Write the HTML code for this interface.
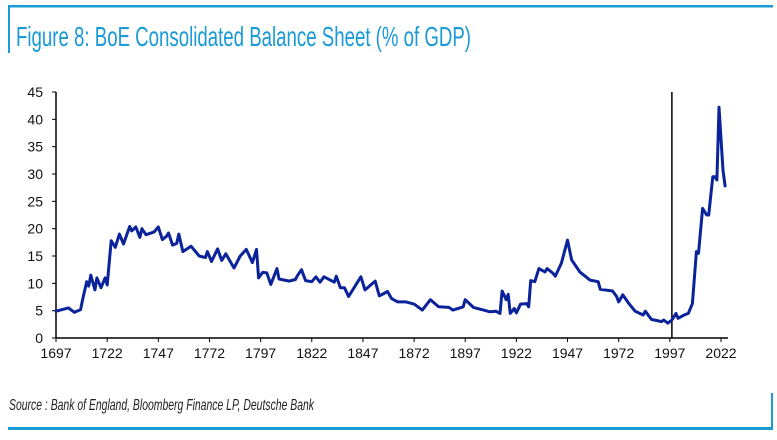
<!DOCTYPE html>
<html><head><meta charset="utf-8"><style>
html,body{margin:0;padding:0;background:#fff;}
svg{display:block;}
</style></head><body>
<svg id="chart" width="777" height="440" viewBox="0 0 777 440" xmlns="http://www.w3.org/2000/svg">
  <rect x="8" y="5" width="765" height="2.5" fill="#1a9ad6"/>
  <rect x="8" y="5" width="2" height="48" fill="#1a9ad6"/>
  <text x="16" y="46" font-family="Liberation Sans, sans-serif" font-size="28" fill="#1a9ad6" textLength="455" lengthAdjust="spacingAndGlyphs">Figure 8: BoE Consolidated Balance Sheet (% of GDP)</text>
  <g id="axes"></g>
  <g id="series"></g>
  <text x="9" y="410" font-family="Liberation Sans, sans-serif" font-size="16" font-style="italic" fill="#222" textLength="305" lengthAdjust="spacingAndGlyphs">Source : Bank of England, Bloomberg Finance LP, Deutsche Bank</text>
  <rect x="771" y="393" width="2" height="37" fill="#1a9ad6"/>
  <rect x="8" y="427" width="765" height="3" fill="#1a9ad6"/>
</svg>
<script>
const years = [1697,1703,1706,1709,1710,1712,1713,1714,1716,1717,1719,1721,1722,1724,1726,1728,1730,1733,1734,1736,1738,1739,1741,1745,1747,1749,1751,1752,1754,1756,1757,1759,1763,1767,1770,1771,1773,1776,1778,1780,1784,1787,1790,1793,1795,1796,1798,1800,1802,1805,1806,1811,1814,1815,1817,1819,1822,1824,1826,1828,1831,1833,1834,1836,1838,1840,1844,1846,1848,1853,1855,1859,1861,1864,1868,1872,1876,1880,1884,1889,1891,1896,1897,1901,1906,1909,1912,1914,1915,1917,1918,1919,1921,1922,1924,1927,1928,1929,1931,1933,1936,1937,1940,1941,1944,1947,1949,1953,1958,1962,1963,1969,1971,1972,1974,1977,1980,1984,1985,1988,1993,1994,1996,1998,2000,2001,2004,2006,2008,2010,2011,2013,2015,2016,2018,2019,2020,2021,2023,2024];
const values = [4.9,5.5,4.7,5.2,7,10.3,9.5,11.5,8.8,11,9.2,11,9.7,17.8,16.6,19,17.2,20.4,19.6,20.3,18.4,20,18.9,19.4,20.3,18,18.6,19.2,17,17.3,19,15.8,16.8,15,14.7,15.8,14,16.3,14.2,15.4,12.8,15,16.2,13.8,16.2,11,12,11.9,9.8,12.7,10.8,10.4,10.7,11.4,12.5,10.5,10.3,11.2,10.2,11.2,10.6,10.2,11.3,9.2,9.2,7.6,10,11.2,8.8,10.4,7.7,8.5,7.2,6.6,6.6,6.2,5.1,7,5.7,5.6,5.1,5.7,7,5.6,5.1,4.8,4.9,4.5,8.6,7,8,4.5,5.4,4.6,6.2,6.3,5.7,10.5,10.3,12.7,12.1,12.7,11.8,11.3,13.7,17.9,14.3,12.1,10.6,10.3,8.9,8.6,7.6,6.6,7.9,6.3,4.9,4.2,4.9,3.4,3.0,3.3,2.7,3.3,4.5,3.6,4.2,4.5,6.3,15.8,15.5,23.7,22.5,22.5,29.5,29.5,28.9,42.2,30.7,27.8];
const xTicks = [1697,1722,1747,1772,1797,1822,1847,1872,1897,1922,1947,1972,1997,2022];
const yTicks = [0,5,10,15,20,25,30,35,40,45];
const markerYear = 1998;

const NS='http://www.w3.org/2000/svg';
const X0=56, X1=721, Y0=338, Y1=92;
function xs(y){return X0+(y-1697)*(X1-X0)/(2022-1697);}
function ys(v){return Y0-(v)*(Y0-Y1)/45;}
function mk(tag,attrs,parent){const e=document.createElementNS(NS,tag);for(const k in attrs)e.setAttribute(k,attrs[k]);parent.appendChild(e);return e;}
const axes=document.getElementById('axes');
const series=document.getElementById('series');

const yAxis=mk('line',{x1:X0,y1:Y0,x2:X0,y2:Y1,stroke:'#000','stroke-width':1.5},axes);


const xAxis=mk('line',{x1:X0,y1:Y0,x2:728,y2:Y0,stroke:'#000','stroke-width':1.5},axes);



yTicks.forEach(t=>{
  const tk=mk('line',{x1:X0-4,y1:ys(t),x2:X0,y2:ys(t),stroke:'#000','stroke-width':1},axes);
  
  
  const lb=mk('text',{x:X0-13,y:ys(t)+5,'text-anchor':'end','font-family':'Liberation Sans, sans-serif','font-size':14,fill:'#111'},axes);
  lb.textContent=t;
  
  
});
xTicks.forEach(t=>{
  const tk=mk('line',{x1:xs(t),y1:Y0,x2:xs(t),y2:Y0+4,stroke:'#000','stroke-width':1},axes);
  
  
  const lb=mk('text',{x:xs(t),y:Y0+20,'text-anchor':'middle','font-family':'Liberation Sans, sans-serif','font-size':14,fill:'#111'},axes);
  lb.textContent=t;
  
  
});

const vline=mk('line',{x1:xs(markerYear),y1:Y1,x2:xs(markerYear),y2:Y0,stroke:'#000','stroke-width':1.5},series);



const d=years.map((y,i)=>(i?'L':'M')+xs(y).toFixed(1)+','+ys(values[i]).toFixed(1)).join(' ');
const path=mk('path',{d:d,fill:'none',stroke:'#0a239a','stroke-width':3,'stroke-linejoin':'round','stroke-linecap':'round'},series);


</script>
</body></html>
